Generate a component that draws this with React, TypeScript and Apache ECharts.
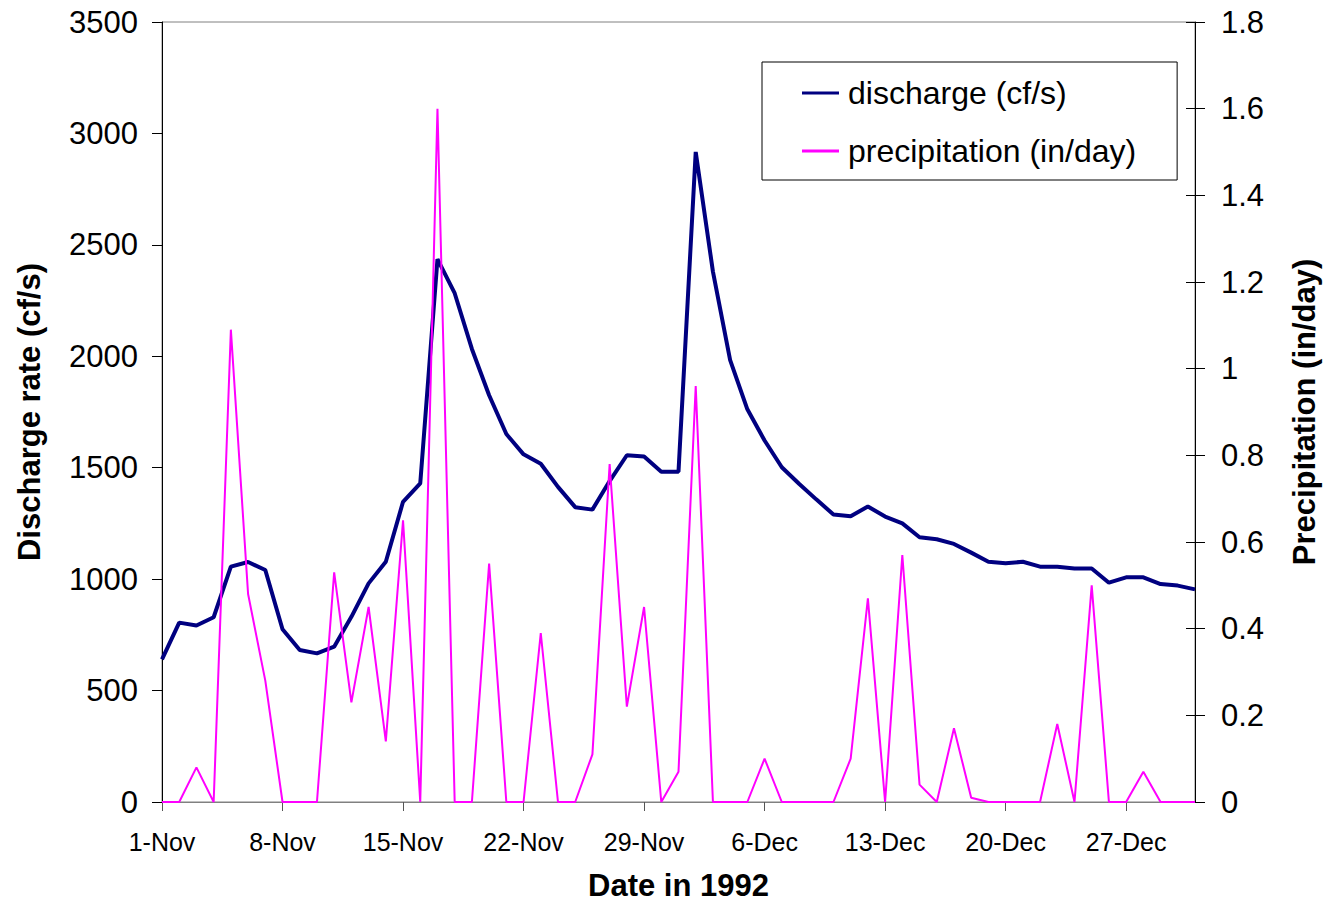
import React, { useEffect, useRef } from "react";
import * as echarts from "echarts";

const novDays = Array.from({ length: 30 }, (_, i) => `${i + 1}-Nov`);
const decDays = Array.from({ length: 31 }, (_, i) => `${i + 1}-Dec`);
const dates: string[] = [...novDays, ...decDays];

const discharge: number[] = [
  640, 805, 792, 829, 1056, 1077, 1041, 775, 682, 667,
  697, 831, 981, 1078, 1347, 1430, 2436, 2283, 2033, 1825,
  1651, 1560, 1518, 1414, 1323, 1312, 1440, 1556, 1550, 1482,
  1482, 2917, 2380, 1983, 1762, 1622, 1502, 1428, 1358, 1290,
  1282, 1326, 1281, 1250, 1188, 1179, 1158, 1119, 1078, 1071,
  1078, 1056, 1056, 1048, 1048, 984, 1008, 1008, 978, 971,
  954,
];

const precipitation: number[] = [
  0, 0, 0.08, 0, 1.09, 0.48, 0.28, 0, 0, 0,
  0.53, 0.23, 0.45, 0.14, 0.65, 0, 1.6, 0, 0, 0.55,
  0, 0, 0.39, 0, 0, 0.11, 0.78, 0.22, 0.45, 0,
  0.07, 0.96, 0, 0, 0, 0.1, 0, 0, 0, 0,
  0.1, 0.47, 0, 0.57, 0.04, 0, 0.17, 0.01, 0, 0,
  0, 0, 0.18, 0, 0.5, 0, 0, 0.07, 0, 0,
  0,
];

const FONT = "'Liberation Sans', Arial, sans-serif";

export default function App() {
  const ref = useRef<HTMLDivElement>(null);
  useEffect(() => {
    if (!ref.current) return;
    const chart = echarts.init(ref.current, undefined, { renderer: "svg" });
    chart.setOption({
      animation: false,
      backgroundColor: "#fff",
      textStyle: { fontFamily: FONT, color: "#000" },
      grid: {
        left: 162,
        right: 132,
        top: 22,
        bottom: 100,
        show: true,
        borderColor: "#808080",
        borderWidth: 1,
        containLabel: false,
        outerBoundsMode: "none",
      },
      legend: {
        orient: "vertical",
        left: 762,
        top: 62,
        padding: [15, 41, 13, 40],
        itemGap: 26,
        itemWidth: 37,
        itemHeight: 3,
        backgroundColor: "#fff",
        borderColor: "#000",
        borderWidth: 1,
        textStyle: { fontFamily: FONT, fontSize: 32, color: "#000", padding: [0, 0, 0, 4] },
        data: [
          { name: "discharge (cf/s)", icon: "rect", itemStyle: { color: "#000080" } },
          { name: "precipitation (in/day)", icon: "rect", itemStyle: { color: "#FF00FF" } },
        ],
      },
      xAxis: {
        type: "category",
        data: dates,
        boundaryGap: false,
        name: "Date in 1992",
        nameLocation: "middle",
        nameGap: 68,
        nameTextStyle: { fontFamily: FONT, fontSize: 31, fontWeight: "bold", color: "#000" },
        axisLine: { lineStyle: { color: "#808080", width: 1 } },
        axisTick: { show: true, interval: 6, length: 9, lineStyle: { color: "#555" } },
        axisLabel: { interval: 6, fontSize: 25, margin: 27, color: "#000", fontFamily: FONT },
        splitLine: { show: false },
      },
      yAxis: [
        {
          type: "value",
          min: 0,
          max: 3500,
          interval: 500,
          position: "left",
          name: "Discharge rate (cf/s)",
          nameLocation: "middle",
          nameRotate: 90,
          nameGap: 117,
          nameTextStyle: { fontFamily: FONT, fontSize: 31, fontWeight: "bold", color: "#000" },
          axisLine: { show: true, lineStyle: { color: "#000", width: 1 } },
          axisTick: { show: true, length: 10, lineStyle: { color: "#000" } },
          axisLabel: {
            fontSize: 31,
            margin: 24,
            color: "#000",
            fontFamily: FONT,
            formatter: (v: number) => String(v),
          },
          splitLine: { show: false },
        },
        {
          type: "value",
          min: 0,
          max: 1.8,
          interval: 0.2,
          position: "right",
          name: "Precipitation (in/day)",
          nameLocation: "middle",
          nameRotate: 90,
          nameGap: 94,
          nameTextStyle: { fontFamily: FONT, fontSize: 31, fontWeight: "bold", color: "#000" },
          axisLine: { show: true, lineStyle: { color: "#000", width: 1 } },
          axisTick: { show: true, length: 10, lineStyle: { color: "#000" } },
          axisLabel: {
            fontSize: 31,
            margin: 26,
            color: "#000",
            fontFamily: FONT,
            formatter: (v: number) => String(Math.round(v * 10) / 10),
          },
          splitLine: { show: false },
        },
        {
          type: "value",
          min: 0,
          max: 1.8,
          interval: 0.2,
          position: "right",
          axisLine: { show: false },
          axisTick: { show: true, inside: true, length: 9, lineStyle: { color: "#000" } },
          axisLabel: { show: false },
          splitLine: { show: false },
        },
      ],
      series: [
        {
          name: "discharge (cf/s)",
          type: "line",
          yAxisIndex: 0,
          data: discharge,
          symbol: "none",
          lineStyle: { color: "#000080", width: 4 },
          itemStyle: { color: "#000080" },
        },
        {
          name: "precipitation (in/day)",
          type: "line",
          yAxisIndex: 1,
          data: precipitation,
          symbol: "none",
          lineStyle: { color: "#FF00FF", width: 2 },
          itemStyle: { color: "#FF00FF" },
        },
      ],
    });
    return () => chart.dispose();
  }, []);
  return (
    <div
      ref={ref}
      style={{ position: "fixed", left: 0, top: 0, width: 1327, height: 902 }}
    />
  );
}
